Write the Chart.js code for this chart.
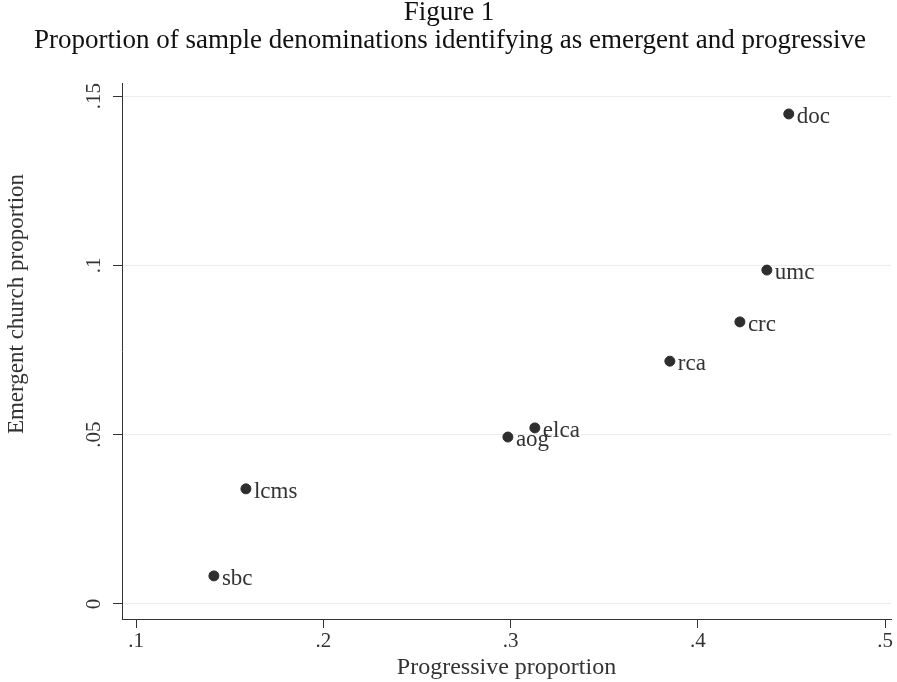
<!DOCTYPE html>
<html>
<head>
<meta charset="utf-8">
<script src="https://cdn.jsdelivr.net/npm/chart.js@4"></script>
<style>
  body { margin: 0; background: #fff; }
  #wrap { width: 897px; height: 682px; }
</style>
</head>
<body>
<div id="wrap"><canvas id="myChart" width="897" height="682"></canvas></div>
<script>
const labels = ['doc', 'umc', 'crc', 'rca', 'elca', 'aog', 'lcms', 'sbc'];
const progressive = [0.4486, 0.4369, 0.4225, 0.3851, 0.3130, 0.2986, 0.1587, 0.1416];
const emergent = [0.1447, 0.0986, 0.0833, 0.0717, 0.0520, 0.0493, 0.0340, 0.0083];
const xTicks = [0.1, 0.2, 0.3, 0.4, 0.5];
const yTicks = [0, 0.05, 0.1, 0.15];

const serif = '"Liberation Serif", "DejaVu Serif", serif';
const fmt = v => v === 0 ? '0' : String(+v.toFixed(2)).replace(/^0/, '');

// title lines, rotated y labels + y title, point labels
const extras = {
  id: 'extras',
  afterDraw(chart){
    const ctx = chart.ctx;
    const xs = chart.scales.x, ys = chart.scales.y;
    ctx.save();
    ctx.fillStyle = '#111';
    ctx.textAlign = 'center';
    ctx.textBaseline = 'middle';
    ctx.font = '27px ' + serif;
    ctx.fillText('Figure 1', 449, 13);
    ctx.fillText('Proportion of sample denominations identifying as emergent and progressive', 450, 41);

    ctx.fillStyle = '#333';
    ctx.font = '21px ' + serif;
    yTicks.forEach(t => {
      ctx.save();
      ctx.translate(94, ys.getPixelForValue(t));
      ctx.rotate(-Math.PI / 2);
      ctx.fillText(fmt(t), 0, 0);
      ctx.restore();
    });

    ctx.save();
    ctx.font = '23px ' + serif;
    ctx.translate(17, 304);
    ctx.rotate(-Math.PI / 2);
    ctx.fillText('Emergent church proportion', 0, 0);
    ctx.restore();

    ctx.textAlign = 'left';
    ctx.font = '23px ' + serif;
    labels.forEach((lb, i) => {
      const px = xs.getPixelForValue(progressive[i]);
      const py = ys.getPixelForValue(emergent[i]);
      ctx.fillText(lb, px + 8, py + 3);
    });
    ctx.restore();
  }
};

const ctx = document.getElementById('myChart').getContext('2d');
const myChart = new Chart(ctx, {
  type: 'scatter',
  data: {
    datasets: [{
      data: progressive.map((x, i) => ({x: x, y: emergent[i]})),
      backgroundColor: '#2e2e2e',
      borderColor: '#2e2e2e',
      pointRadius: 5,
      pointHoverRadius: 5,
    }]
  },
  options: {
    responsive: false,
    animation: false,
    layout: { padding: { top: 83, right: 0, left: 0, bottom: 0 } },
    plugins: { legend: { display: false }, tooltip: { enabled: false } },
    scales: {
      x: {
        type: 'linear',
        min: 0.09252,
        max: 0.5032,
        afterBuildTicks: s => { s.ticks = xTicks.map(v => ({value: v})); },
        afterFit: s => { s.height = 63; },
        grid: { drawOnChartArea: false, drawTicks: true, tickLength: 9, color: '#333', tickColor: '#333' },
        border: { color: '#333', width: 1 },
        ticks: {
          color: '#333',
          padding: 1,
          maxRotation: 0,
          font: { family: serif, size: 21 },
          callback: v => fmt(v)
        },
        title: {
          display: true,
          text: 'Progressive proportion',
          color: '#333',
          padding: { top: -7, bottom: 0 },
          font: { family: serif, size: 24 }
        }
      },
      y: {
        type: 'linear',
        min: -0.00443,
        max: 0.15384,
        afterBuildTicks: s => { s.ticks = yTicks.map(v => ({value: v})); },
        afterFit: s => { s.width = 122; },
        grid: { color: '#ececec', lineWidth: 1, drawTicks: true, tickLength: 9, tickColor: '#333' },
        border: { color: '#333', width: 1 },
        ticks: { display: false },
        title: { display: false }
      }
    }
  },
  plugins: [extras]
});
</script>
</body>
</html>
